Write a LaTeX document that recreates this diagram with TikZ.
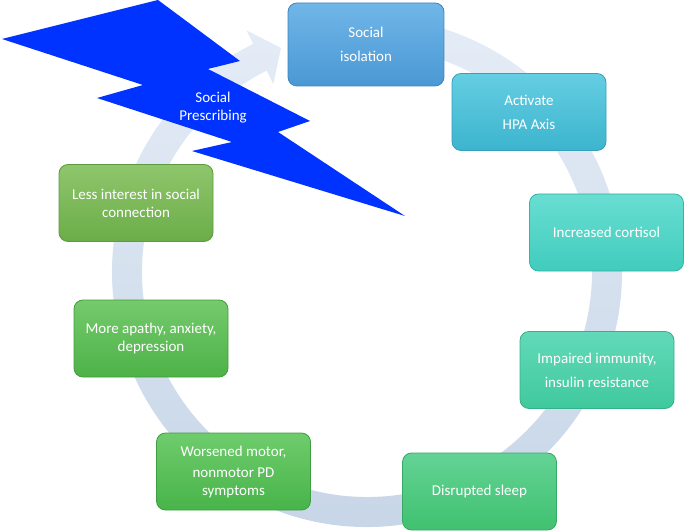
\documentclass[tikz,border=0pt]{standalone}
\usepackage{fontspec}
\setmainfont{Carlito}

\definecolor{ringhell}{HTML}{E6EDF7}
\definecolor{ringdunkel}{HTML}{C6D5E7}
\definecolor{blitzblau}{HTML}{0033FF}
\definecolor{isoO}{HTML}{70B6E8}\definecolor{isoU}{HTML}{4A98D4}\definecolor{isoR}{HTML}{3E85BF}
\definecolor{hpaO}{HTML}{64CEE3}\definecolor{hpaU}{HTML}{3DB4CE}\definecolor{hpaR}{HTML}{35A0B8}
\definecolor{corO}{HTML}{69DED2}\definecolor{corU}{HTML}{40CCBD}\definecolor{corR}{HTML}{36B3A6}
\definecolor{immO}{HTML}{62D9B9}\definecolor{immU}{HTML}{40C99D}\definecolor{immR}{HTML}{35B08A}
\definecolor{schO}{HTML}{63D395}\definecolor{schU}{HTML}{40C170}\definecolor{schR}{HTML}{36AA62}
\definecolor{motO}{HTML}{6ECC6C}\definecolor{motU}{HTML}{48B44A}\definecolor{motR}{HTML}{3E9E41}
\definecolor{apaO}{HTML}{75CA6C}\definecolor{apaU}{HTML}{4DB248}\definecolor{apaR}{HTML}{429E3E}
\definecolor{intO}{HTML}{8FC66C}\definecolor{intU}{HTML}{6BAD48}\definecolor{intR}{HTML}{5E9A3F}

\begin{document}
\begin{tikzpicture}[x=1pt,y=1pt,
  box/.style={rounded corners=9pt, minimum width=154pt, minimum height=77pt,
    align=center, text=white, line width=0.8pt,
    font=\fontsize{15}{18}\selectfont},
  beschriftung/.style={text=white, align=center, font=\fontsize{15}{18}\selectfont}]
  \useasboundingbox (0,0) rectangle (685,531);

  % Kreispfeil im Hintergrund
  \begin{scope}[shift={(367,259)}]
    \shade[top color=ringhell, bottom color=ringdunkel]
      (100:255) arc[start angle=100, end angle=-243.5, radius=255]
      -- (-243.5:270) -- (-249:240) -- (-243.5:210) -- (-243.5:225)
      arc[start angle=-243.5, end angle=100, radius=225] -- cycle;
  \end{scope}

  % Blitz
  \fill[blitzblau] (2,492) -- (158,531) -- (240,470) -- (208,462) -- (310,410)
    -- (278,399) -- (405,315) -- (192,380) -- (232,389) -- (97,433)
    -- (143,446) -- cycle;
  \node[beschriftung] (sp) at (213,423) {Social\\Prescribing};

  % Kaesten im Uhrzeigersinn
  \node[box, minimum width=156pt, minimum height=83pt,
    top color=isoO, bottom color=isoU, draw=isoR] (iso) at (366,486.5) {Social\\[6pt]isolation};
  \node[box, top color=hpaO, bottom color=hpaU, draw=hpaR] (hpa) at (529,419) {Activate\\[6pt]HPA Axis};
  \node[box, top color=corO, bottom color=corU, draw=corR] (cort) at (606.5,298.5) {Increased cortisol};
  \node[box, top color=immO, bottom color=immU, draw=immR] (immun) at (597,161) {Impaired immunity,\\[6pt]insulin resistance};
  \node[box, top color=schO, bottom color=schU, draw=schR] (schlaf) at (479.5,39.5) {Disrupted sleep};
  \node[box, top color=motO, bottom color=motU, draw=motR] (motor) at (233.5,59.5) {Worsened motor,\\[3pt]nonmotor PD\\symptoms};
  \node[box, top color=apaO, bottom color=apaU, draw=apaR] (apathie) at (151,192.5) {More apathy, anxiety,\\depression};
  \node[box, top color=intO, bottom color=intU, draw=intR] (interesse) at (136,328) {Less interest in social\\connection};
\end{tikzpicture}
\end{document}
